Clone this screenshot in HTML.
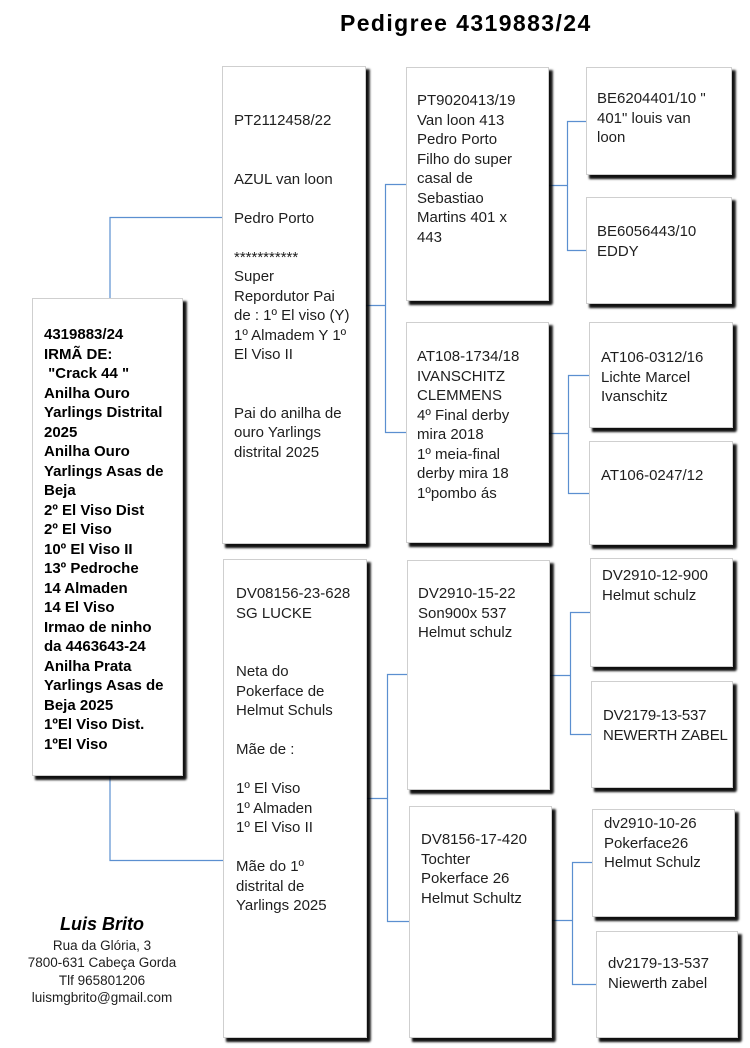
<!DOCTYPE html>
<html>
<head>
<meta charset="utf-8">
<style>
  html, body { margin:0; padding:0; background:#fff; }
  body { width:750px; height:1048px; position:relative; overflow:hidden;
         font-family:"Liberation Sans", Arial, sans-serif; color:#1e1e1e; }
  .box { position:absolute; background:#fff; border:1px solid #cfcfcf;
         box-sizing:border-box; box-shadow:3px 4px 2px rgba(0,0,0,0.85), 4px 3px 2px rgba(0,0,0,0.6); }
  .t { position:absolute; font-size:15px; line-height:19.5px; white-space:pre; }
  .b { font-weight:bold; color:#000; }
  svg { position:absolute; left:0; top:0; }
  .title { position:absolute; left:340px; top:9px; font-size:23px; line-height:28px;
           font-weight:bold; letter-spacing:1.4px; color:#000; white-space:pre; }
  .foot { position:absolute; left:0; width:204px; text-align:center; white-space:pre; }
</style>
</head>
<body>

<div class="title">Pedigree 4319883/24</div>

<svg width="750" height="1048">
  <g stroke="#5b8fd0" stroke-width="1.2" fill="none">
    <polyline points="110,298 110,217.5 222,217.5"/>
    <polyline points="110,776 110,860.5 223,860.5"/>
    <line x1="366" y1="305.5" x2="385.5" y2="305.5"/>
    <polyline points="406,184.5 385.5,184.5 385.5,432.5 406,432.5"/>
    <line x1="367" y1="798.5" x2="387.5" y2="798.5"/>
    <polyline points="407,674.5 387.5,674.5 387.5,921.5 409,921.5"/>
    <line x1="549" y1="185.5" x2="567.5" y2="185.5"/>
    <polyline points="586,121.5 567.5,121.5 567.5,250.5 586,250.5"/>
    <line x1="549" y1="433.5" x2="568.5" y2="433.5"/>
    <polyline points="589,375.5 568.5,375.5 568.5,493.5 589,493.5"/>
    <line x1="550" y1="675.5" x2="570.5" y2="675.5"/>
    <polyline points="590,612.5 570.5,612.5 570.5,734.5 591,734.5"/>
    <line x1="552" y1="920.5" x2="572.5" y2="920.5"/>
    <polyline points="592,862.5 572.5,862.5 572.5,984.5 596,984.5"/>
  </g>
</svg>

<div class="box" style="left:32px;top:298px;width:151px;height:478px;"></div>
<div class="box" style="left:222px;top:66px;width:144px;height:478px;"></div>
<div class="box" style="left:223px;top:559px;width:144px;height:479px;"></div>
<div class="box" style="left:406px;top:67px;width:143px;height:234px;"></div>
<div class="box" style="left:406px;top:322px;width:143px;height:221px;"></div>
<div class="box" style="left:407px;top:560px;width:143px;height:230px;"></div>
<div class="box" style="left:409px;top:806px;width:143px;height:232px;"></div>
<div class="box" style="left:586px;top:67px;width:146px;height:108px;"></div>
<div class="box" style="left:586px;top:197px;width:146px;height:107px;"></div>
<div class="box" style="left:589px;top:322px;width:144px;height:106px;"></div>
<div class="box" style="left:589px;top:441px;width:144px;height:104px;"></div>
<div class="box" style="left:590px;top:558px;width:143px;height:109px;"></div>
<div class="box" style="left:591px;top:681px;width:142px;height:107px;"></div>
<div class="box" style="left:592px;top:809px;width:143px;height:108px;"></div>
<div class="box" style="left:596px;top:931px;width:142px;height:107px;"></div>

<div class="t b" style="left:44px;top:325px;">4319883/24
IRMÃ DE:
 "Crack 44 "
Anilha Ouro
Yarlings Distrital
2025
Anilha Ouro
Yarlings Asas de
Beja
2º El Viso Dist
2º El Viso
10º El Viso II
13º Pedroche
14 Almaden
14 El Viso
Irmao de ninho
da 4463643-24
Anilha Prata
Yarlings Asas de
Beja 2025
1ºEl Viso Dist.
1ºEl Viso</div>

<div class="t" style="left:234px;top:111px;">PT2112458/22


AZUL van loon

Pedro Porto

***********
Super
Repordutor Pai
de : 1º El viso (Y)
1º Almadem Y 1º
El Viso II


Pai do anilha de
ouro Yarlings
distrital 2025</div>

<div class="t" style="left:236px;top:584px;">DV08156-23-628
SG LUCKE


Neta do
Pokerface de
Helmut Schuls

Mãe de :

1º El Viso
1º Almaden
1º El Viso II

Mãe do 1º
distrital de
Yarlings 2025</div>

<div class="t" style="left:417px;top:91px;">PT9020413/19
Van loon 413
Pedro Porto
Filho do super
casal de
Sebastiao
Martins 401 x
443</div>

<div class="t" style="left:417px;top:347px;">AT108-1734/18
IVANSCHITZ
CLEMMENS
4º Final derby
mira 2018
1º meia-final
derby mira 18
1ºpombo ás</div>

<div class="t" style="left:418px;top:584px;">DV2910-15-22
Son900x 537
Helmut schulz</div>

<div class="t" style="left:421px;top:830px;">DV8156-17-420
Tochter
Pokerface 26
Helmut Schultz</div>

<div class="t" style="left:597px;top:89px;">BE6204401/10 "
401" louis van
loon</div>

<div class="t" style="left:597px;top:222px;">BE6056443/10
EDDY</div>

<div class="t" style="left:601px;top:348px;">AT106-0312/16
Lichte Marcel
Ivanschitz</div>

<div class="t" style="left:601px;top:466px;">AT106-0247/12</div>

<div class="t" style="left:602px;top:566px;">DV2910-12-900
Helmut schulz</div>

<div class="t" style="left:603px;top:706px;letter-spacing:-0.2px;">DV2179-13-537
NEWERTH ZABEL</div>

<div class="t" style="left:604px;top:814px;">dv2910-10-26
Pokerface26
Helmut Schulz</div>

<div class="t" style="left:608px;top:954px;">dv2179-13-537
Niewerth zabel</div>

<div class="foot" style="top:913px;font-size:18px;line-height:22px;font-weight:bold;font-style:italic;color:#000;">Luis Brito</div>
<div class="foot" style="top:937px;font-size:13.5px;line-height:17.4px;color:#1e1e1e;">Rua da Glória, 3
7800-631 Cabeça Gorda
Tlf 965801206
luismgbrito@gmail.com</div>

</body>
</html>
